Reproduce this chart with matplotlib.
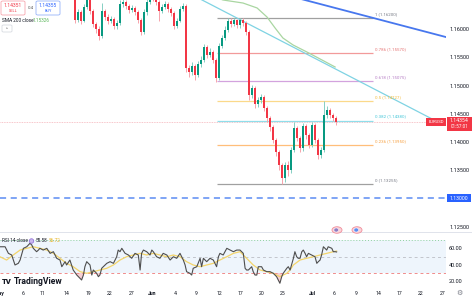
import matplotlib
matplotlib.use("Agg")
import matplotlib.pyplot as plt
import numpy as np
from matplotlib.patches import Rectangle, Ellipse, FancyBboxPatch
from matplotlib.lines import Line2D

plt.rcParams['font.family'] = ['Roboto', 'DejaVu Sans']

# ---------------- data ----------------
first_open = 1.1694
close = [
    1.1700, 1.1706, 1.1692, 1.1680, 1.1671, 1.1677, 1.1688, 1.1701, 1.1714, 1.1720,
    1.1711, 1.1704, 1.1698, 1.1707, 1.1712, 1.1704, 1.1697, 1.1693, 1.1686, 1.1690,
    1.1683, 1.1687, 1.1679, 1.1673, 1.1666, 1.1616, 1.1630, 1.1615, 1.1639, 1.1652,
    1.1632, 1.1609, 1.1600, 1.1588, 1.1632, 1.1622, 1.1615, 1.1618, 1.1606, 1.1611,
    1.1645, 1.1648, 1.1641, 1.1634, 1.1638, 1.1630, 1.1616, 1.1595, 1.1630, 1.1648,
    1.1661, 1.1655, 1.1648, 1.1632, 1.1639, 1.1645, 1.1636, 1.1629, 1.1606, 1.1615,
    1.1636, 1.1641, 1.1531, 1.1524, 1.1535, 1.1519, 1.1538, 1.1545, 1.1568, 1.1554,
    1.1560, 1.1545, 1.1513, 1.1570, 1.1584, 1.1599, 1.1615, 1.1609, 1.1616, 1.1607,
    1.1616, 1.1611, 1.1595, 1.1483, 1.1496, 1.1467, 1.1475, 1.1480, 1.1460, 1.1443,
    1.1427, 1.1404, 1.1382, 1.1359, 1.1336, 1.1359, 1.1350, 1.1386, 1.1425, 1.1407,
    1.1389, 1.1428, 1.1412, 1.1395, 1.1430, 1.1404, 1.1377, 1.1386, 1.1448, 1.1457,
    1.1448, 1.1443, 1.14354]
high = [
    1.1707, 1.1712, 1.1710, 1.1697, 1.1684, 1.1683, 1.1693, 1.1706, 1.1719, 1.1726,
    1.1724, 1.1716, 1.1708, 1.1712, 1.1717, 1.1715, 1.1708, 1.1701, 1.1696, 1.1695,
    1.1693, 1.1691, 1.1690, 1.1683, 1.1677, 1.1670, 1.1636, 1.1634, 1.1644, 1.1660,
    1.1656, 1.1636, 1.1613, 1.1605, 1.1646, 1.1636, 1.1627, 1.1624, 1.1622, 1.1616,
    1.1651, 1.1654, 1.1652, 1.1645, 1.1643, 1.1641, 1.1634, 1.1619, 1.1635, 1.1653,
    1.1666, 1.1665, 1.1659, 1.1651, 1.1644, 1.1650, 1.1649, 1.1640, 1.1632, 1.1620,
    1.1641, 1.1647, 1.1645, 1.1537, 1.1541, 1.1539, 1.1543, 1.1552, 1.1574, 1.1572,
    1.1566, 1.1563, 1.1549, 1.1576, 1.1590, 1.1605, 1.1620, 1.1619, 1.1620, 1.1618,
    1.1620, 1.1619, 1.1614, 1.1598, 1.1501, 1.1499, 1.1480, 1.1485, 1.1484, 1.1464,
    1.1447, 1.1431, 1.1408, 1.1386, 1.1362, 1.1364, 1.1366, 1.1392, 1.1436, 1.1429,
    1.1411, 1.1434, 1.1432, 1.1416, 1.1436, 1.1433, 1.1408, 1.1392, 1.14727, 1.1464,
    1.1461, 1.1452, 1.1447]
low = [
    1.1689, 1.1695, 1.1686, 1.1675, 1.1665, 1.1667, 1.1673, 1.1684, 1.1697, 1.1709,
    1.1706, 1.1699, 1.1692, 1.1694, 1.1703, 1.1700, 1.1692, 1.1688, 1.1681, 1.1682,
    1.1678, 1.1679, 1.1674, 1.1669, 1.1660, 1.1611, 1.1612, 1.1609, 1.1612, 1.1635,
    1.1627, 1.1604, 1.1594, 1.1581, 1.1585, 1.1617, 1.1609, 1.1611, 1.1600, 1.1601,
    1.1608, 1.1640, 1.1636, 1.1629, 1.1630, 1.1625, 1.1611, 1.1590, 1.1592, 1.1626,
    1.1644, 1.1650, 1.1643, 1.1614, 1.1628, 1.1635, 1.1631, 1.1624, 1.1600, 1.1602,
    1.1612, 1.1632, 1.1524, 1.1516, 1.1519, 1.1510, 1.1515, 1.1533, 1.1541, 1.1549,
    1.1550, 1.1540, 1.1506, 1.1510, 1.1566, 1.1580, 1.1595, 1.1604, 1.1605, 1.1602,
    1.1603, 1.1605, 1.1590, 1.1475, 1.1478, 1.1460, 1.1462, 1.1470, 1.1455, 1.1436,
    1.1420, 1.1398, 1.1376, 1.1350, 1.13255, 1.1330, 1.1340, 1.1345, 1.1382, 1.1401,
    1.1383, 1.1385, 1.1406, 1.1389, 1.1391, 1.1398, 1.1370, 1.1372, 1.1383, 1.1443,
    1.1442, 1.1437, 1.1430]

# SMA 200 (bar index, price)
sma_t = [71.7, 74.3, 81.0, 85.7, 89.0, 91.7, 94.3, 97.7, 102.3, 106.7, 111.7]
sma_v = [1.1657, 1.16518, 1.16464, 1.16376, 1.16216, 1.16021, 1.15844, 1.15720, 1.15596, 1.15472, 1.15330]

# trend lines (bar index, price)
blue_t = [95.0, 148.7]
blue_v = [1.1661, 1.1586]
cyan_t = [60.0, 144.0]
cyan_v = [1.1672, 1.1441]

# Fibonacci retracement
fib_levels = ["1", "0.786", "0.618", "0.5", "0.382", "0.236", "0"]
fib_prices = [1.16200, 1.15570, 1.15075, 1.14727, 1.14380, 1.13950, 1.13255]
fib_start, fib_end = 72.3, 124.3

last_price = 1.14354
support = 1.13000

# RSI 14 (bar index, value)
rsi_t = [0.0, 1.7, 2.8, 3.9, 5.0, 6.1, 6.7, 7.8, 8.9, 10.0,
         10.6, 11.1, 12.2, 12.8, 13.3, 14.4, 15.6, 16.7, 17.8, 18.9,
         20.0, 20.6, 21.7, 22.2, 23.3, 24.4, 25.6, 26.7, 27.2, 27.8,
         28.3, 28.9, 30.0, 30.6, 31.1, 32.2, 32.8, 33.3, 33.9, 35.0,
         35.6, 36.7, 37.8, 38.9, 39.4, 40.0, 40.6, 41.7, 42.8, 43.9,
         45.0, 46.1, 46.7, 47.2, 47.8, 48.9, 50.0, 50.6, 51.1, 52.2,
         53.3, 54.4, 55.6, 56.7, 57.8, 58.9, 60.0, 61.1, 61.7, 62.2,
         63.3, 63.9, 64.4, 65.6, 66.7, 67.2, 67.8, 68.9, 70.0, 71.1,
         72.2, 72.8, 73.3, 74.4, 75.6, 76.7, 77.8, 78.9, 80.0, 81.1,
         81.7, 82.2, 82.8, 83.9, 84.4, 85.0, 85.6, 86.1, 87.2, 87.8,
         88.9, 90.0, 91.1, 92.2, 93.3, 93.9, 94.4, 95.6, 96.1, 96.7,
         97.8, 98.3, 98.9, 99.4, 100.0, 100.6, 101.1, 101.7, 102.2, 102.8,
         103.9, 105.0, 105.6, 106.1, 106.7, 107.2, 107.8, 108.3, 108.9, 109.4,
         110.6, 111.1, 111.7, 112.2]
rsi_v = [61.9, 61.9, 53.9, 51.9, 39.8, 41.8, 45.8, 60.0, 61.9, 66.1,
         64.0, 60.0, 55.9, 57.9, 60.0, 57.9, 60.0, 53.9, 55.9, 47.9,
         45.8, 37.7, 43.8, 39.8, 45.8, 33.7, 27.6, 23.6, 21.6, 27.6,
         37.7, 43.8, 39.8, 27.6, 33.7, 29.7, 25.6, 27.6, 35.8, 39.8,
         41.8, 43.8, 41.8, 49.8, 57.9, 55.9, 60.0, 53.9, 51.9, 47.9,
         53.9, 51.9, 33.7, 53.9, 57.9, 55.9, 51.9, 57.9, 55.9, 49.8,
         47.9, 53.9, 51.9, 45.8, 49.8, 47.9, 53.9, 45.8, 39.8, 31.7,
         29.7, 27.6, 35.8, 37.7, 47.9, 37.7, 47.9, 43.8, 47.9, 45.8,
         37.7, 49.8, 53.9, 51.9, 60.0, 57.9, 55.9, 57.9, 57.9, 53.9,
         35.8, 33.7, 33.7, 37.7, 31.7, 27.6, 27.6, 37.7, 37.7, 33.7,
         31.7, 31.7, 29.7, 25.6, 17.6, 25.6, 29.7, 35.8, 37.7, 33.7,
         47.9, 55.9, 49.8, 47.9, 47.9, 55.9, 57.9, 53.9, 49.8, 53.9,
         51.9, 49.8, 41.8, 43.8, 45.8, 51.9, 61.9, 60.0, 57.9, 61.9,
         60.0, 55.9, 55.9, 55.58]
ma_t = [0.0, 2.2, 4.4, 6.7, 8.9, 11.1, 13.3, 15.6, 17.8, 20.0,
        22.2, 24.4, 26.7, 28.9, 31.1, 33.3, 35.6, 37.8, 40.0, 42.2,
        44.4, 46.7, 48.9, 51.1, 53.3, 55.6, 57.8, 60.0, 62.2, 64.4,
        66.7, 68.9, 71.1, 73.3, 75.6, 77.8, 80.0, 82.2, 84.4, 86.7,
        88.9, 91.1, 92.2, 93.3, 94.4, 95.6, 96.7, 97.8, 100.0, 102.2,
        104.4, 106.7, 108.9, 111.1, 112.2]
ma_v = [49.8, 45.8, 51.9, 57.9, 60.0, 61.9, 60.0, 57.9, 53.9, 47.9,
        41.8, 37.7, 31.7, 29.7, 31.7, 33.7, 35.8, 39.8, 45.8, 49.8,
        51.9, 53.9, 51.9, 53.9, 51.9, 49.8, 51.9, 49.8, 43.8, 39.8,
        37.7, 39.8, 41.8, 45.8, 49.8, 53.9, 55.9, 47.9, 39.8, 33.7,
        31.7, 29.7, 27.6, 25.6, 27.6, 29.7, 33.7, 39.8, 45.8, 47.9,
        49.8, 51.9, 53.9, 55.9, 56.72]

price_ticks = [1.125, 1.135, 1.140, 1.145, 1.150, 1.155, 1.160]
rsi_ticks = [20, 40, 60]
date_labels = ["May", "6", "11", "14", "19", "22", "27", "Jun", "4", "9", "12",
               "17", "20", "25", "Jul", "6", "9", "14", "17", "22", "27"]
date_pos = [0.0, 7.7, 14.3, 22.3, 29.3, 36.7, 44.0, 50.7, 58.3, 65.3, 73.0,
            80.0, 87.3, 94.3, 104.3, 111.3, 118.7, 126.0, 133.3, 140.3, 147.7]

# ---------------- figure ----------------
W, H = 472, 300
fig = plt.figure(figsize=(W / 100, H / 100), dpi=100)
fig.patch.set_facecolor('white')


def fx(px):
    return px / W


def fy(py):
    return 1 - py / H


X_MAX = 446 / 3
UP, DN = '#089981', '#f23645'
UPW, DNW = '#86cfc3', '#f7a3ab'

ax = fig.add_axes([0, fy(231), fx(446), 231 / H])
ax.set_xlim(0, X_MAX)
ax.set_ylim(1.124233, 1.165175)
for s in ax.spines.values():
    s.set_visible(False)
ax.set_xticks([])
ax.yaxis.tick_right()
ax.set_yticks(price_ticks)
ax.set_yticklabels([f"{v:.5f}" for v in price_ticks])
ax.tick_params(axis='y', length=0, pad=2.2, labelsize=4, labelcolor='#131722')

c = np.array(close)
hi = np.array(high)
lo = np.array(low)
o = np.r_[first_open, c[:-1]]
idx = np.arange(len(c))
up = c >= o
ax.vlines(idx, lo, hi, colors=np.where(up, UPW, DNW), linewidth=0.7, zorder=3)
ax.bar(idx, np.maximum(np.abs(c - o), 0.00004), bottom=np.minimum(o, c), width=0.72,
       color=np.where(up, UP, DN), linewidth=0, zorder=4)

# horizontal lines
ax.axhline(last_price, color='#f6b2b9', lw=0.6, ls=(0, (1, 1)), zorder=1)
ax.axhline(support, color='#5b8cf2', lw=1.1, ls=(0, (4, 3)), zorder=2)

# fib
fib_line_cols = ['#a0a0a0', '#f29a9a', '#d3a3de', '#fbd98a', '#8fdeea', '#ffbe7a', '#a0a0a0']
fib_text_cols = ['#787b86', '#e57373', '#b57cc4', '#f2bb3a', '#45c6d8', '#f7a040', '#787b86']
ax.hlines(fib_prices, fib_start, fib_end, colors=fib_line_cols, lw=0.9, zorder=2)
for lvl, p, tc in zip(fib_levels, fib_prices, fib_text_cols):
    ax.annotate(f"{lvl} ({p:.5f})", (fib_end, p), xytext=(1.5, 3.0), textcoords='offset points',
                fontsize=3.2, color=tc, va='center', ha='left', zorder=6)

# trend lines & SMA
ax.plot(sma_t, sma_v, color='#a9d6a1', lw=0.9, zorder=2)
ax.plot(cyan_t, cyan_v, color='#7fd3e3', lw=0.9, zorder=2)
ax.plot(blue_t, blue_v, color='#4777ee', lw=1.3, zorder=2)

# ---------------- RSI panel ----------------
rx = fig.add_axes([0, fy(286), fx(446), (286 - 232) / H])
rx.set_xlim(0, X_MAX)
rx.set_ylim(14.3, 79.8)
for s in rx.spines.values():
    s.set_visible(False)
rx.axhspan(30, 70, color='#eef5fc', zorder=0, lw=0)
rx.axhline(70, color='#8fd19e', lw=0.7, ls=(0, (1, 2)))
rx.axhline(50, color='#c2c5cc', lw=0.7, ls=(0, (3, 3)))
rx.axhline(30, color='#f08c8c', lw=0.7, ls=(0, (3, 3)))
rt = np.array(rsi_t)
rv = np.array(rsi_v)
rx.fill_between(rt, rv, 30, where=rv < 30, interpolate=True, color='#f7c3c8', alpha=0.8, lw=0)
rx.plot(ma_t, ma_v, color='#f4d56a', lw=0.9, zorder=3)
rx.plot(rt, rv, color='#4e4e4e', lw=0.8, zorder=4)
rx.yaxis.tick_right()
rx.set_yticks(rsi_ticks)
rx.set_yticklabels([f"{v:.2f}" for v in rsi_ticks])
rx.tick_params(axis='y', length=0, pad=2.2, labelsize=4, labelcolor='#131722')
rx.set_xticks(date_pos)
rx.set_xticklabels(date_labels)
rx.tick_params(axis='x', length=0, pad=3.6, labelsize=3.7, labelcolor='#131722')
for t in rx.get_xticklabels():
    if t.get_text() in ("May", "Jun", "Jul"):
        t.set_fontweight('bold')

# separator
fig.add_artist(Line2D([0, 1], [fy(231.6)] * 2, color='#e0e3eb', lw=0.7))

# ---------------- overlays ----------------
def rbox(x0, y0, x1, y1, fc, ec, lw=0.6, r=0.004):
    p = FancyBboxPatch((fx(x0), fy(y1)), fx(x1 - x0), (y1 - y0) / H,
                       boxstyle=f'round,pad=0,rounding_size={r}', transform=fig.transFigure,
                       facecolor=fc, edgecolor=ec, lw=lw, zorder=10)
    fig.add_artist(p)


def ftxt(x, y, s, **kw):
    kw.setdefault('fontsize', 3.6)
    kw.setdefault('va', 'center')
    fig.text(fx(x), fy(y), s, zorder=11, **kw)


# sell / buy
rbox(1, 1, 25, 15, 'white', '#f7a6ae')
ftxt(13, 5.5, "1.14351", color='#f23645', ha='center', fontsize=3.6)
ftxt(13, 11.3, "SELL", color='#f23645', ha='center', fontsize=2.8)
ftxt(30.5, 8, "0.4", color='#555555', ha='center', fontsize=3.2)
rbox(36, 1, 60, 15, 'white', '#96b4fa')
ftxt(48, 5.5, "1.14355", color='#2962ff', ha='center', fontsize=3.6)
ftxt(48, 11.3, "BUY", color='#2962ff', ha='center', fontsize=2.8)
ftxt(2, 20, "SMA 200 close", color='#131722', ha='left', fontsize=3.4)
ftxt(33, 20, "1.15326", color='#5cb85c', ha='left', fontsize=3.4)
rbox(2, 25, 12, 32, 'white', '#d1d4dc', lw=0.5, r=0.003)
ftxt(7, 29, "^", color='#555555', ha='center', fontsize=3.2)

# price scale markers
fig.add_artist(Rectangle((fx(426), fy(125.5)), fx(20), 7.5 / H, transform=fig.transFigure,
                         facecolor='#f23645', edgecolor='none', zorder=10))
ftxt(436, 121.8, "EURUSD", color='white', ha='center', fontsize=3.1)
fig.add_artist(Rectangle((fx(447), fy(130.5)), fx(25), 14 / H, transform=fig.transFigure,
                         facecolor='#f23645', edgecolor='none', zorder=10))
ftxt(459.5, 120.5, "1.14354", color='white', ha='center', fontsize=3.7)
ftxt(459.5, 126.8, "01:57:01", color='white', ha='center', fontsize=3.3)
fig.add_artist(Rectangle((fx(447), fy(201.8)), fx(24), 7.6 / H, transform=fig.transFigure,
                         facecolor='#2962ff', edgecolor='none', zorder=10))
ftxt(459, 198, "1.13000", color='white', ha='center', fontsize=3.7)

# event icons
for ex, inner in ((337, '#8e7cc3'), (357, '#5b8cf2')):
    fig.add_artist(Ellipse((fx(ex), fy(230)), fx(10), 6.5 / H, transform=fig.transFigure,
                           facecolor='#fbd3d8', edgecolor='#f08c9a', lw=0.6, zorder=12))
    fig.add_artist(Ellipse((fx(ex - 0.8), fy(230)), fx(4.5), 4 / H, transform=fig.transFigure,
                           facecolor=inner, edgecolor='white', lw=0.3, zorder=13))

# RSI legend
ftxt(2, 241, "RSI 14 close", color='#131722', ha='left', fontsize=3.4)
fig.add_artist(Ellipse((fx(31.5), fy(241)), fx(4.5), 4.5 / H, transform=fig.transFigure,
                       facecolor='#c9b6ee', edgecolor='#8c6bd6', lw=0.5, zorder=12))
ftxt(36, 241, "55.58", color='#131722', ha='left', fontsize=3.4)
ftxt(49, 241, "56.72", color='#e6b422', ha='left', fontsize=3.4)

# TradingView watermark
ftxt(2, 282, "TV", color='#131722', ha='left', fontsize=5.5, fontweight='heavy')
ftxt(13.5, 282, "TradingView", color='#131722', ha='left', fontsize=6.2, fontweight='bold')

# settings gear
fig.text(fx(459), fy(293), "\u2699", fontsize=5, color='#787b86', ha='center', va='center',
         family=['DejaVu Sans'])

fig.savefig("out.png", dpi=100, facecolor='white')
